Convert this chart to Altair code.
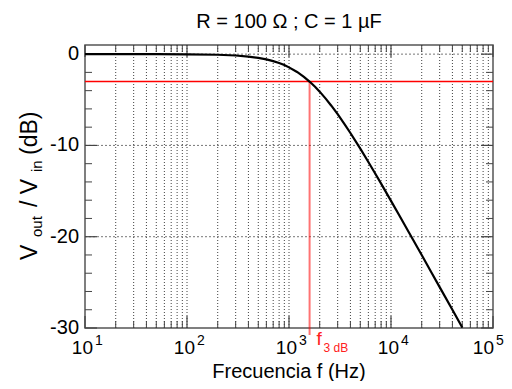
import altair as alt
import pandas as pd

# ---- data ----
freq = [10, 50, 100, 200, 300, 400, 500, 600, 700, 800, 900, 1000, 1200, 1400,
        1600, 1800, 2000, 2300, 2600, 3000, 3500, 4000, 5000, 6000, 7000, 8000,
        10000, 12000, 15000, 20000, 25000, 30000, 40000, 50000]
gain_db = [0.0, -0.004, -0.02, -0.07, -0.15, -0.27, -0.41, -0.58, -0.77, -0.98,
           -1.2, -1.45, -1.95, -2.49, -3.03, -3.58, -4.11, -4.9, -5.65, -6.58,
           -7.66, -8.64, -10.36, -11.82, -13.08, -14.19, -16.07, -17.62, -19.53,
           -22.01, -23.94, -25.52, -28.01, -29.95]
f3db = [1591.5]
level_3db = [-3.0]
decades = [10, 100, 1000, 10000, 100000]
decade_exp = ["1", "2", "3", "4", "5"]
minor_freqs = [m * d for d in [10, 100, 1000, 10000] for m in range(2, 10)]
y_major = [0, -10, -20, -30]
y_major_labels = ["0", "-10", "-20", "-30"]
y_minor = [v for v in range(-28, 0, 2) if v % 10 != 0]
y_grid = [0, -10, -20]
title_text = "R = 100 Ω ; C = 1 µF"
xtitle_text = "Frecuencia f (Hz)"

W, H = 408, 283
FONT = "Liberation Sans"

xs = alt.Scale(type="log", domain=[10, 100000])
ys = alt.Scale(domain=[-30, 1])
X = lambda f: alt.X(f, scale=xs, axis=None)
Y = lambda f: alt.Y(f, scale=ys, axis=None)

curve_df = pd.DataFrame({"f": freq, "g": gain_db})
dec_df = pd.DataFrame({"f": decades, "e": decade_exp, "t": ["10"] * 5})
dec_in_df = dec_df.iloc[:-1]
dec_last_df = dec_df.iloc[-1:]
minor_df = pd.DataFrame({"f": minor_freqs})
allx_df = pd.DataFrame({"f": minor_freqs + decades[1:-1]})
ymaj_df = pd.DataFrame({"v": y_major, "t": y_major_labels})
ymin_df = pd.DataFrame({"v": y_minor})
ygrid_df = pd.DataFrame({"v": y_grid})
f3_df = pd.DataFrame({"f": f3db, "g": level_3db})

layers = []

# vertical dotted grid
layers.append(alt.Chart(allx_df).mark_rule(color="#000", strokeDash=[1, 2], strokeWidth=1, opacity=0.75)
              .encode(x=X("f:Q"), y=alt.value(0), y2=alt.value(H)))
# horizontal dotted grid
layers.append(alt.Chart(ygrid_df).mark_rule(color="#777", strokeDash=[2, 2], strokeWidth=1)
              .encode(y=Y("v:Q"), x=alt.value(0), x2=alt.value(W)))

TICK = "#444"
# x ticks (bottom & top), minor & major
layers.append(alt.Chart(minor_df).mark_rule(color=TICK, strokeWidth=1)
              .encode(x=X("f:Q"), y=alt.value(H), y2=alt.value(H - 7)))
layers.append(alt.Chart(minor_df).mark_rule(color=TICK, strokeWidth=1)
              .encode(x=X("f:Q"), y=alt.value(0), y2=alt.value(7)))
layers.append(alt.Chart(dec_df).mark_rule(color=TICK, strokeWidth=1.2)
              .encode(x=X("f:Q"), y=alt.value(H), y2=alt.value(H - 12)))
layers.append(alt.Chart(dec_df).mark_rule(color=TICK, strokeWidth=1.2)
              .encode(x=X("f:Q"), y=alt.value(0), y2=alt.value(12)))
# y ticks (left & right)
layers.append(alt.Chart(ymin_df).mark_rule(color=TICK, strokeWidth=1)
              .encode(y=Y("v:Q"), x=alt.value(0), x2=alt.value(7)))
layers.append(alt.Chart(ymin_df).mark_rule(color=TICK, strokeWidth=1)
              .encode(y=Y("v:Q"), x=alt.value(W - 7), x2=alt.value(W)))
layers.append(alt.Chart(ymaj_df).mark_rule(color=TICK, strokeWidth=1.2)
              .encode(y=Y("v:Q"), x=alt.value(0), x2=alt.value(12)))
layers.append(alt.Chart(ymaj_df).mark_rule(color=TICK, strokeWidth=1.2)
              .encode(y=Y("v:Q"), x=alt.value(W - 12), x2=alt.value(W)))

# -3 dB lines
layers.append(alt.Chart(f3_df).mark_rule(color="#ff0000", strokeWidth=1.5)
              .encode(y=Y("g:Q"), x=alt.value(0), x2=alt.value(W)))
layers.append(alt.Chart(f3_df).mark_rule(color="#ff0000", strokeWidth=2, opacity=0.55)
              .encode(x=X("f:Q"), y=Y("g:Q"), y2=alt.value(H + 7)))

# curve
layers.append(alt.Chart(curve_df).mark_line(color="#000", strokeWidth=2.2, clip=True)
              .encode(x=X("f:Q"), y=Y("g:Q")))

# f3dB label
layers.append(alt.Chart(f3_df).mark_text(text="f", color="#ff2020", fontSize=19, font=FONT,
                                         align="left", baseline="alphabetic", dx=7)
              .encode(x=X("f:Q"), y=alt.value(H + 17)))
layers.append(alt.Chart(f3_df).mark_text(text="3 dB", color="#ff2020", fontSize=12, font=FONT,
                                         align="left", baseline="alphabetic", dx=14)
              .encode(x=X("f:Q"), y=alt.value(H + 24)))

# x tick labels
for df, shift in ((dec_in_df, 0), (dec_last_df, -7)):
    layers.append(alt.Chart(df).mark_text(fontSize=19, font=FONT, align="right",
                                          baseline="alphabetic", dx=8 + shift)
                  .encode(x=X("f:Q"), y=alt.value(H + 26), text="t:N"))
    layers.append(alt.Chart(df).mark_text(fontSize=14, font=FONT, align="left",
                                          baseline="alphabetic", dx=10 + shift)
                  .encode(x=X("f:Q"), y=alt.value(H + 17), text="e:N"))
# y tick labels
layers.append(alt.Chart(ymaj_df).mark_text(fontSize=20, font=FONT, align="right",
                                           baseline="middle", dx=-6)
              .encode(y=Y("v:Q"), x=alt.value(0), text="t:N"))


def label(txt, x, y, size, **kw):
    return (alt.Chart(pd.DataFrame({"s": [txt]}))
            .mark_text(fontSize=size, font=FONT, baseline="alphabetic", color="#000", **kw)
            .encode(text="s:N", x=alt.value(x), y=alt.value(y)))


layers.append(label(title_text, W / 2, -17, 20, align="center"))
layers.append(label(xtitle_text, W / 2, 332.5, 20, align="center"))
# y title pieces (rotated)
layers.append(label("V", -48, 215, 23, align="left", angle=270))
layers.append(label("out", -43, 192, 15, align="left", angle=270))
layers.append(label("/ V", -48, 162, 23, align="left", angle=270))
layers.append(label("in", -43, 127, 15, align="left", angle=270))
layers.append(label("(dB)", -48, 110, 23, align="left", angle=270))

chart = (alt.layer(*layers)
         .properties(width=W, height=H,
                     padding={"left": 77, "top": 37, "right": 11, "bottom": 53},
                     autosize=alt.AutoSizeParams(type="none"))
         .configure_view(stroke="#555", strokeWidth=1.5))

chart.save("out.html", embed_options={"renderer": "svg", "actions": False})
